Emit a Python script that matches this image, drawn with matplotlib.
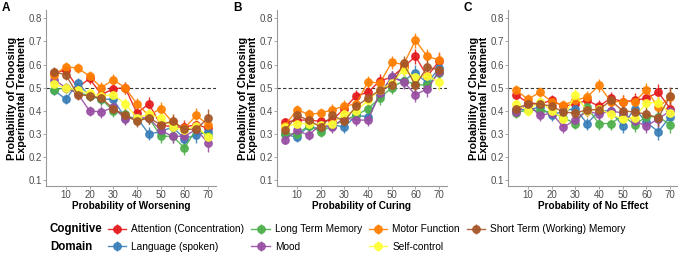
import matplotlib.pyplot as plt

plt.rcParams['font.family'] = ['Liberation Sans', 'DejaVu Sans']

x = [5, 10, 15, 20, 25, 30, 35, 40, 45, 50, 55, 60, 65, 70]
domains = ["Attention (Concentration)", "Language (spoken)", "Long Term Memory", "Mood",
           "Motor Function", "Self-control", "Short Term (Working) Memory"]
colors = ["#E41A1C", "#377EB8", "#4DAF4A", "#984EA3", "#FF7F00", "#FFFF33", "#A65628"]

# Panel A: probability of worsening
worsening = {
    "Attention (Concentration)": [0.565, 0.575, 0.50, 0.54, 0.47, 0.495, 0.50, 0.39, 0.43, 0.34, 0.33, 0.33, 0.34, 0.325],
    "Language (spoken)": [0.49, 0.45, 0.52, 0.465, 0.45, 0.45, 0.37, 0.37, 0.30, 0.31, 0.33, 0.28, 0.295, 0.31],
    "Long Term Memory": [0.49, 0.50, 0.48, 0.465, 0.45, 0.40, 0.385, 0.36, 0.37, 0.29, 0.29, 0.24, 0.32, 0.29],
    "Mood": [0.535, 0.50, 0.475, 0.40, 0.395, 0.415, 0.365, 0.37, 0.37, 0.315, 0.29, 0.29, 0.32, 0.26],
    "Motor Function": [0.555, 0.59, 0.585, 0.55, 0.50, 0.535, 0.50, 0.43, 0.38, 0.41, 0.35, 0.325, 0.38, 0.34],
    "Self-control": [0.515, 0.50, 0.49, 0.475, 0.465, 0.47, 0.43, 0.37, 0.385, 0.37, 0.33, 0.315, 0.335, 0.285],
    "Short Term (Working) Memory": [0.57, 0.555, 0.47, 0.465, 0.455, 0.41, 0.38, 0.355, 0.37, 0.34, 0.355, 0.32, 0.32, 0.37],
}

# Panel B: probability of curing
curing = {
    "Attention (Concentration)": [0.35, 0.36, 0.36, 0.355, 0.36, 0.41, 0.465, 0.48, 0.53, 0.545, 0.59, 0.635, 0.55, 0.615],
    "Language (spoken)": [0.30, 0.285, 0.335, 0.32, 0.34, 0.33, 0.38, 0.375, 0.47, 0.545, 0.53, 0.565, 0.52, 0.585],
    "Long Term Memory": [0.30, 0.30, 0.335, 0.31, 0.335, 0.36, 0.38, 0.41, 0.455, 0.50, 0.53, 0.515, 0.51, 0.565],
    "Mood": [0.275, 0.315, 0.295, 0.34, 0.33, 0.37, 0.36, 0.36, 0.475, 0.545, 0.525, 0.47, 0.495, 0.57],
    "Motor Function": [0.335, 0.405, 0.385, 0.39, 0.405, 0.42, 0.43, 0.525, 0.52, 0.61, 0.60, 0.705, 0.635, 0.62],
    "Self-control": [0.33, 0.345, 0.345, 0.34, 0.345, 0.385, 0.40, 0.445, 0.49, 0.52, 0.575, 0.545, 0.55, 0.525],
    "Short Term (Working) Memory": [0.315, 0.38, 0.36, 0.33, 0.38, 0.355, 0.42, 0.455, 0.49, 0.51, 0.605, 0.51, 0.59, 0.575],
}

# Panel C: probability of no effect
no_effect = {
    "Attention (Concentration)": [0.47, 0.435, 0.43, 0.445, 0.42, 0.43, 0.445, 0.42, 0.455, 0.44, 0.445, 0.455, 0.48, 0.41],
    "Language (spoken)": [0.405, 0.405, 0.415, 0.38, 0.40, 0.41, 0.345, 0.40, 0.40, 0.335, 0.41, 0.35, 0.31, 0.375],
    "Long Term Memory": [0.39, 0.405, 0.40, 0.395, 0.37, 0.345, 0.415, 0.345, 0.345, 0.38, 0.34, 0.375, 0.375, 0.34],
    "Mood": [0.395, 0.43, 0.38, 0.39, 0.33, 0.36, 0.40, 0.385, 0.40, 0.39, 0.355, 0.335, 0.365, 0.40],
    "Motor Function": [0.49, 0.45, 0.48, 0.44, 0.425, 0.445, 0.46, 0.51, 0.44, 0.44, 0.44, 0.49, 0.415, 0.46],
    "Self-control": [0.43, 0.40, 0.44, 0.40, 0.365, 0.47, 0.40, 0.41, 0.385, 0.365, 0.37, 0.435, 0.435, 0.39],
    "Short Term (Working) Memory": [0.41, 0.43, 0.43, 0.42, 0.395, 0.39, 0.405, 0.405, 0.445, 0.40, 0.395, 0.385, 0.37, 0.465],
}

# approximate standard errors (grow with probability)
err = [0.02, 0.021, 0.022, 0.023, 0.024, 0.025, 0.026, 0.027, 0.028, 0.029, 0.03, 0.032, 0.034, 0.036]

panels = [("A", worsening, "Probability of Worsening"),
          ("B", curing, "Probability of Curing"),
          ("C", no_effect, "Probability of No Effect")]
lefts = [46, 277, 508]

fig = plt.figure(figsize=(6.78, 2.57), dpi=100)
handles = []
for (letter, data, xlabel), left in zip(panels, lefts):
    ax = fig.add_axes([left / 678, 1 - 186 / 257, 170 / 678, 176 / 257])
    ax.axhline(0.5, color="#333333", linestyle=(0, (3, 2)), linewidth=0.8, zorder=1)
    hs = []
    for name, c in zip(domains, colors):
        h = ax.errorbar(x, data[name], yerr=err, color=c, marker="o", markersize=5.3,
                        linewidth=1.0, elinewidth=1.0, ecolor=c, alpha=0.9, capsize=0,
                        label=name, zorder=2)
        hs.append(h)
    handles = hs
    ax.set_xlim(1.65, 73.3)
    ax.set_ylim(0.075, 0.836)
    ax.set_xticks([10, 20, 30, 40, 50, 60, 70])
    ax.set_yticks([0.1, 0.2, 0.3, 0.4, 0.5, 0.6, 0.7, 0.8])
    ax.set_yticklabels(["0.1", "0.2", "0.3", "0.4", "0.5", "0.6", "0.7", "0.8"])
    for s in ["top", "right"]:
        ax.spines[s].set_visible(False)
    for s in ["left", "bottom"]:
        ax.spines[s].set_color("#999999")
        ax.spines[s].set_linewidth(0.8)
    ax.tick_params(colors="#999999", labelcolor="#4d4d4d", labelsize=7, length=2, width=0.6, pad=1)
    ax.set_xlabel(xlabel, fontsize=7.2, fontweight="bold", labelpad=0.5)
    ax.set_ylabel("Probability of Choosing\nExperimental Treatment", fontsize=7.8, fontweight="bold",
                  labelpad=1, linespacing=1.0)
    fig.text((left - 44) / 678, 1 - 11 / 257, letter, fontsize=8.5, fontweight="bold")

fig.text(50 / 678, 1 - 238 / 257, "Cognitive\nDomain", fontsize=8.3, fontweight="bold",
         va="center", ha="left", linespacing=1.6)
fig.legend(handles, domains, ncol=4, loc="center left", bbox_to_anchor=(104 / 678, 1 - 238 / 257),
           frameon=False, fontsize=7.3, handlelength=1.8, handletextpad=0.5,
           columnspacing=0.7, labelspacing=0.72, borderaxespad=0)

fig.savefig("out.png", dpi=100)
